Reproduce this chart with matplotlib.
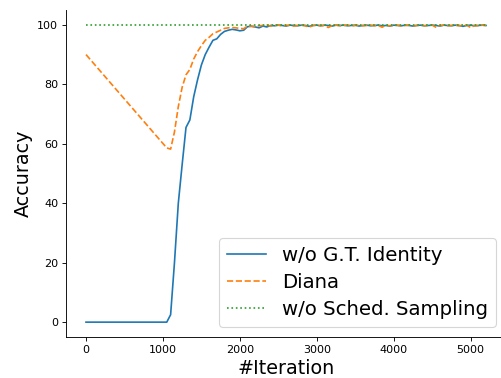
import matplotlib
matplotlib.use('Agg')
import matplotlib.pyplot as plt
import numpy as np

# iterations: start point, then every 50 from 1050 to 5200
iters = [0] + list(range(1050, 5201, 50))

# w/o G.T. Identity
gt_head = [0.0, 0.0, 2.5, 20.0, 40.0, 53.0, 65.5, 68.0, 75.8, 81.5, 86.5, 90.0, 92.5,
           94.8, 95.3, 96.8, 97.8, 98.2, 98.5, 98.3, 98.0, 98.2, 99.4, 99.5, 99.3]
gt_tail = [99.0, 99.6, 99.3, 99.8, 99.7, 99.9, 99.8, 99.6, 99.9, 99.8,
           99.7, 99.9, 99.8, 99.5, 99.8, 99.9, 99.7, 99.9, 99.8, 99.6,
           99.9, 99.8, 99.9, 99.7, 99.8, 99.9, 99.6, 99.8, 99.9, 99.7,
           99.8, 99.9, 99.7, 99.8, 99.6, 99.9, 99.8, 99.7, 99.9, 99.8,
           99.6, 99.8, 99.9, 99.7, 99.8, 99.9, 99.8, 99.6, 99.9, 99.8,
           99.7, 99.9, 99.8, 99.5, 99.8, 99.9, 99.7, 99.8, 99.9, 99.8]
no_gt = gt_head + gt_tail

# Diana
di_head = [90.0, 58.6, 58.2, 64.0, 72.5, 79.0, 83.2, 85.0, 88.5, 91.0, 93.0, 94.8, 95.8,
           97.0, 97.6, 98.2, 98.8, 99.0, 99.1, 99.0, 98.8, 98.7, 99.6, 99.6, 99.4]
di_tail = [99.7, 99.8, 99.9, 99.6, 99.8, 99.9, 99.7, 99.8, 99.9, 99.6,
           99.8, 99.9, 99.7, 99.2, 99.8, 99.9, 99.7, 99.8, 99.1, 99.8,
           99.9, 99.7, 99.8, 99.9, 99.6, 99.8, 99.9, 99.7, 99.8, 99.9,
           99.7, 99.8, 99.2, 99.9, 99.7, 99.8, 99.9, 99.6, 99.8, 99.9,
           99.7, 99.8, 99.9, 99.7, 99.8, 99.9, 99.2, 99.8, 99.9, 99.7,
           99.8, 99.9, 99.7, 99.8, 99.9, 99.1, 99.8, 99.7, 99.9, 99.8]
diana = di_head + di_tail

# w/o Sched. Sampling
sched_iters = [0, 5200]
no_sched = [100.0, 100.0]

labels = ['w/o G.T. Identity', 'Diana', 'w/o Sched. Sampling']

fig = plt.figure(figsize=(501 / 80, 378 / 80), dpi=80)
ax = fig.add_axes([66 / 501, 41 / 378, 440 / 501, 327 / 378])

ax.plot(iters, no_gt, '-', color='C0', label=labels[0])
ax.plot(iters, diana, '--', color='C1', label=labels[1])
ax.plot(sched_iters, no_sched, ':', color='C2', label=labels[2])

ax.spines['top'].set_visible(False)
ax.spines['right'].set_visible(False)
ax.set_xlabel('#Iteration', fontsize='xx-large')
ax.set_ylabel('Accuracy', fontsize='xx-large')
ax.set_xticks(np.arange(0, 5001, 1000))
ax.set_yticks(np.arange(0, 101, 20))
ax.legend(loc='lower right', fontsize=17.8, labelspacing=0.42)

fig.savefig('out.png', dpi=80)
